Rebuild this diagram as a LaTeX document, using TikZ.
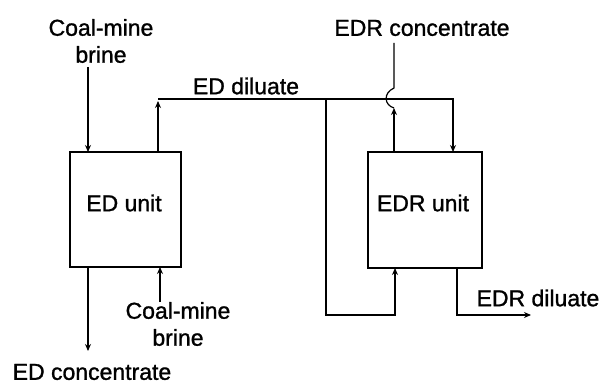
\documentclass[tikz,border=0pt]{standalone}
\usepackage{fontspec}
\setmainfont{Liberation Sans}[FakeBold=1.2]
\usetikzlibrary{arrows.meta}
\begin{document}
\begin{tikzpicture}[x=1pt,y=-1pt,
  flow/.style={line width=1.2pt},
  arr/.style={flow,-{Stealth[length=7pt,width=6pt]}},
  unit/.style={draw,line width=1.2pt,minimum width=111pt,minimum height=115pt,inner sep=0pt},
  lab/.style={align=center,inner sep=0pt,font=\fontsize{23}{27}\selectfont}]
\useasboundingbox (0,0) rectangle (605,385);
% units
\node[unit] (ed) at (125.5,209.5) {};
\node[unit,minimum width=114pt,minimum height=116pt] (edr) at (425,210) {};
\node[lab] (edt) at (124,203) {ED unit};
\node[lab] (edrt) at (423,203) {EDR unit};
% labels
\node[lab] (cmb1) at (101,41) {Coal-mine\\brine};
\node[lab] (dil) at (246,86) {ED diluate};
\node[lab] (edrc) at (422,28) {EDR concentrate};
\node[lab] (cmb2) at (178,324) {Coal-mine\\brine};
\node[lab] (edrd) at (538,298) {EDR diluate};
\node[lab] (edc) at (92,372) {ED concentrate};
% coordinates
\coordinate (a1) at (88,67);
\coordinate (a2) at (88,152);
\coordinate (d0) at (158,152);
\coordinate (d1) at (158,101);
\coordinate (d2) at (158,99);
\coordinate (d3) at (453,99);
\coordinate (d4) at (453,152);
\coordinate (b0) at (326,99);
\coordinate (b1) at (326,315);
\coordinate (b2) at (395,315);
\coordinate (b3) at (395,268);
\coordinate (c0) at (394,152);
\coordinate (c1) at (394,108);
\coordinate (c2) at (394,88);
\coordinate (c3) at (394,43);
\coordinate (e0) at (457,268);
\coordinate (e1) at (457,315);
\coordinate (e2) at (531,315);
\coordinate (f0) at (88,267);
\coordinate (f1) at (88,351);
\coordinate (g0) at (160,302);
\coordinate (g1) at (160,267);
% connectors
\draw[arr] (a1) -- (a2);
\draw[arr] (d0) -- (d1);
\draw[arr] (d2) -- (d3) -- (d4);
\draw[arr] (b0) -- (b1) -- (b2) -- (b3);
\draw[arr] (c0) -- (c1);
\draw[flow] (c1) .. controls (384,105) and (383,93) .. (c2) -- (c3);
\draw[arr] (e0) -- (e1) -- (e2);
\draw[arr] (f0) -- (f1);
\draw[arr] (g0) -- (g1);
\end{tikzpicture}
\end{document}
